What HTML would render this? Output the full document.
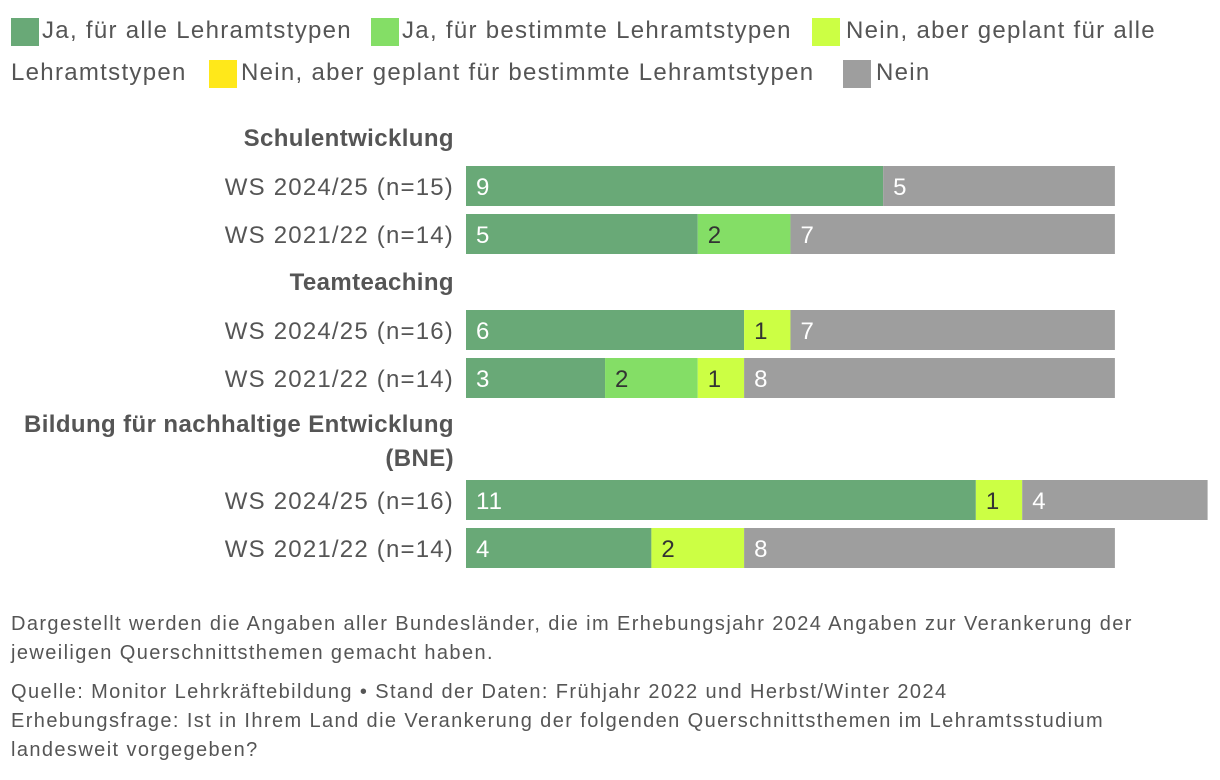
<!DOCTYPE html>
<html><head><meta charset="utf-8"><style>
body{margin:0;width:1220px;height:780px;background:#fff;font-family:"Liberation Sans",sans-serif;color:#444;position:relative;overflow:hidden}
.lg{position:absolute;font-size:24px;letter-spacing:1.3px;color:#555;white-space:nowrap}
.sw{position:absolute;width:28px;height:28px}
.note{position:absolute;left:11px;font-size:20px;letter-spacing:1.4px;color:#555;line-height:29px;white-space:nowrap}
</style></head><body>
<div>
<div class="sw" style="left:11px;top:18px;background:#69a977"></div>
<div class="lg" style="left:42px;top:17px">Ja, für alle Lehramtstypen</div>
<div class="sw" style="left:371px;top:18px;background:#84de66"></div>
<div class="lg" style="left:402px;top:17px">Ja, für bestimmte Lehramtstypen</div>
<div class="sw" style="left:812px;top:18px;background:#ccff44"></div>
<div class="lg" style="left:846px;top:17px">Nein, aber geplant für alle</div>
<div class="lg" style="left:11px;top:59px">Lehramtstypen</div>
<div class="sw" style="left:209px;top:60px;background:#ffe81a"></div>
<div class="lg" style="left:241px;top:59px">Nein, aber geplant für bestimmte Lehramtstypen</div>
<div class="sw" style="left:843px;top:60px;background:#9e9e9e"></div>
<div class="lg" style="left:876px;top:59px">Nein</div>
</div>
<svg id="chart" width="1220" height="600" style="position:absolute;left:0;top:0" font-family="Liberation Sans, sans-serif"></svg>
<div class="note" style="top:610px">Dargestellt werden die Angaben aller Bundesländer, die im Erhebungsjahr 2024 Angaben zur Verankerung der<br>jeweiligen Querschnittsthemen gemacht haben.</div>
<div class="note" style="top:678px">Quelle: Monitor Lehrkräftebildung • Stand der Daten: Frühjahr 2022 und Herbst/Winter 2024<br>Erhebungsfrage: Ist in Ihrem Land die Verankerung der folgenden Querschnittsthemen im Lehramtsstudium<br>landesweit vorgegeben?</div>
<script>
const rowLabels=["WS 2024/25 (n=15)","WS 2021/22 (n=14)","WS 2024/25 (n=16)","WS 2021/22 (n=14)","WS 2024/25 (n=16)","WS 2021/22 (n=14)"];
const jaAlle=[9,5,6,3,11,4];
const jaBestimmte=[0,2,0,2,0,0];
const geplantAlle=[0,0,1,1,1,2];
const geplantBestimmte=[0,0,0,0,0,0];
const nein=[5,7,7,8,4,8];
const groupTitles=[["Schulentwicklung"],["Teamteaching"],["Bildung für nachhaltige Entwicklung","(BNE)"]];
const series=[jaAlle,jaBestimmte,geplantAlle,geplantBestimmte,nein];
const seriesNames=["ja-alle","ja-bestimmte","geplant-alle","geplant-bestimmte","nein"];
const colors=["#69a977","#84de66","#ccff44","#ffe81a","#9e9e9e"];
const textCol=["#fff","#333","#333","#333","#fff"];
const x0=466,unit=46.35,barH=40;
const rowY=[166,214,310,358,480,528];
const titleY=[[146],[290],[432,466]];
const xs=v=>v*unit;
const svg=document.getElementById('chart');
const NS='http://www.w3.org/2000/svg';
function t(x,y,s,opt){const e=document.createElementNS(NS,'text');e.setAttribute('x',x);e.setAttribute('y',y);e.textContent=s;for(const k in opt)e.setAttribute(k,opt[k]);svg.appendChild(e);return e;}
groupTitles.forEach((g,gi)=>{g.forEach((line,li)=>{const e=t(454,titleY[gi][li],line,{'text-anchor':'end','font-size':'24','font-weight':'bold','letter-spacing':'0.4','fill':'#555'});

});});
rowLabels.forEach((lab,i)=>{
const e=t(454,rowY[i]+29,lab,{'text-anchor':'end','font-size':'24','letter-spacing':'1.2','fill':'#555'});


let acc=0;
series.forEach((s,si)=>{const v=s[i];if(!v)return;
const r=document.createElementNS(NS,'rect');
r.setAttribute('x',x0+xs(acc));r.setAttribute('y',rowY[i]);r.setAttribute('width',xs(v));r.setAttribute('height',barH);r.setAttribute('fill',colors[si]);


svg.appendChild(r);
const l=t(x0+xs(acc)+10,rowY[i]+29,String(v),{'font-size':'24','letter-spacing':'1','fill':textCol[si]});


acc+=v;});
});
</script>
</body></html>
